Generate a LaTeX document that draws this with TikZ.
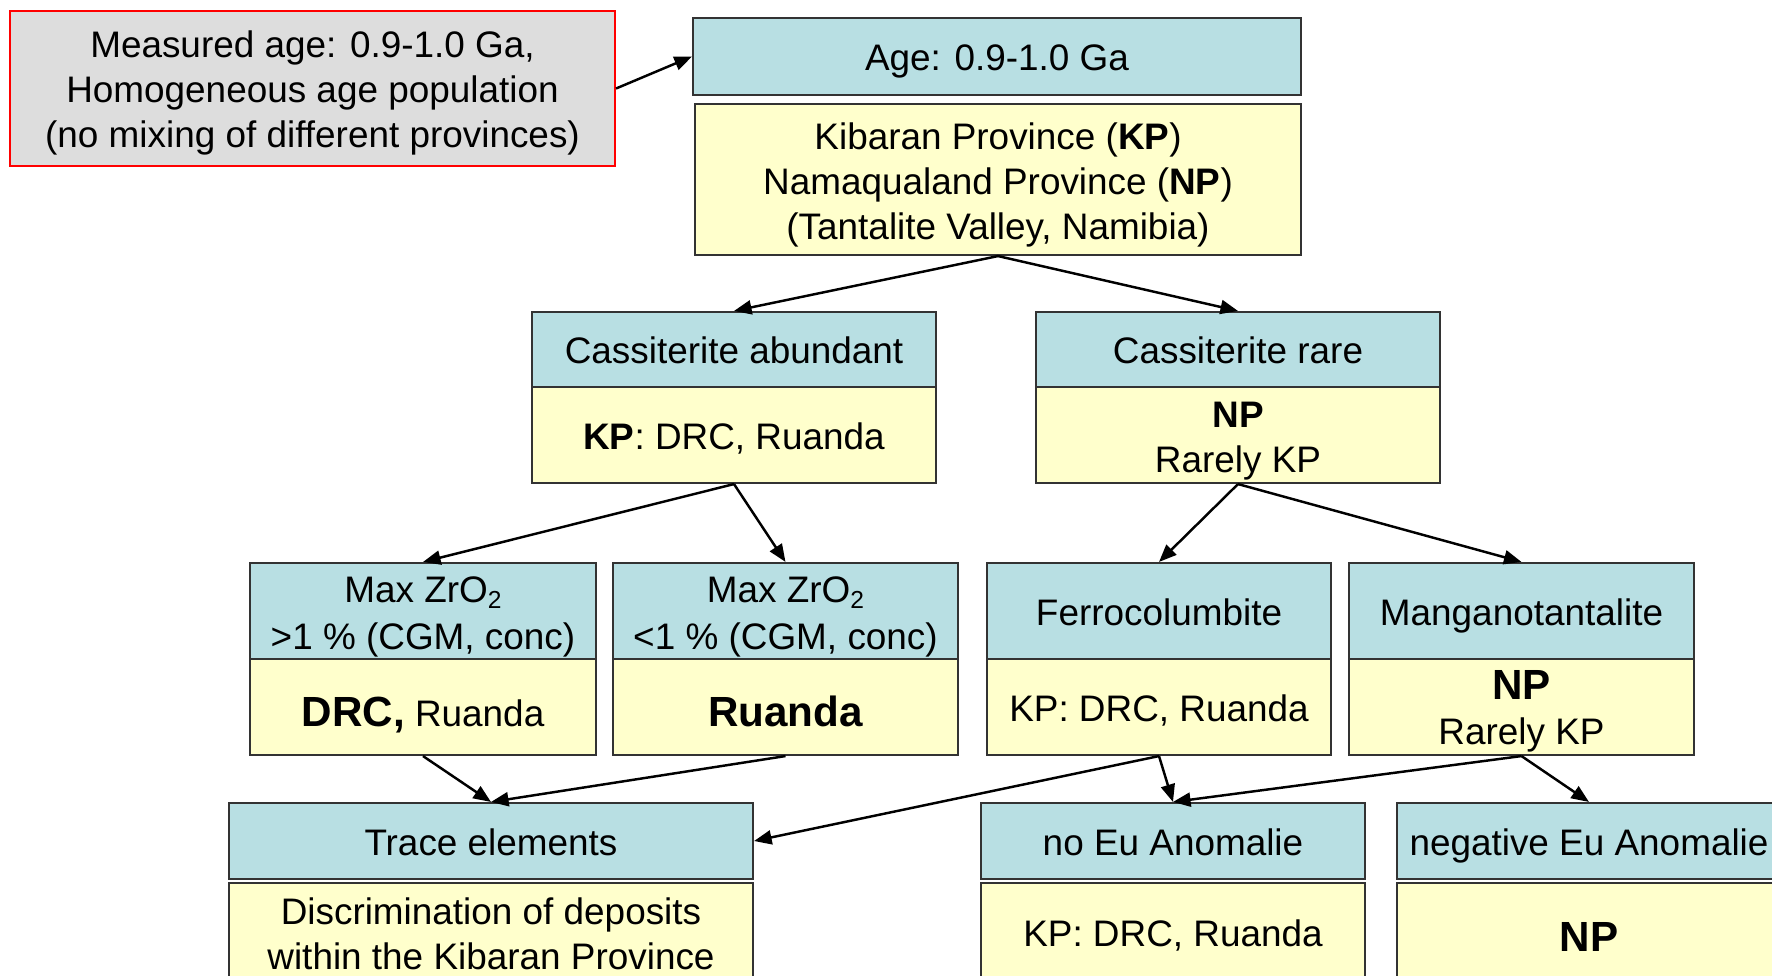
\documentclass[tikz,border=0pt]{standalone}
\usepackage{fontspec}
\setmainfont{Liberation Sans}
\usetikzlibrary{arrows.meta}
\definecolor{headblue}{HTML}{B8DFE3}
\definecolor{infoyellow}{HTML}{FFFFCC}
\definecolor{measgray}{HTML}{DDDDDD}
\newcommand\bigbold[1]{{\fontsize{12}{14}\selectfont\bfseries #1}}
\newcommand\pptstrut{\rule[-0.212em]{0pt}{1.2em}}
\newcommand\firststrut{\rule{0pt}{1.04em}}
\newcommand\bigstrut{\rule{0pt}{1.25em}}
\newcommand\zrsub{{\fontsize{7}{8}\selectfont\raisebox{-0.45ex}{2}}}
\begin{document}
\begin{tikzpicture}[
  font=\fontsize{10.5}{12.8}\selectfont,
  box/.style={draw=black!80,line width=0.6pt,align=center,inner sep=0pt,
    execute at begin node=\pptstrut,execute at end node=\pptstrut},
  head/.style={box,fill=headblue},
  info/.style={box,fill=infoyellow},
  arr/.style={-{Triangle[length=5pt,width=4pt]},line width=0.7pt}]
  \useasboundingbox (0,0) rectangle (17.72,-9.75);
  \clip (0,0) rectangle (17.72,-9.75);
  \node[box,draw=red,fill=measgray,minimum width=6.05cm,minimum height=1.55cm] (measured) at (3.125,-0.885) {\rule{0pt}{0.95em}Measured age: 0.9-1.0 Ga,\\Homogeneous age population\\(no mixing of different provinces)};
  \node[head,minimum width=6.08cm,minimum height=0.77cm] (age) at (9.97,-0.565) {Age: 0.9-1.0 Ga};
  \node[info,minimum width=6.06cm,minimum height=1.51cm] (province) at (9.98,-1.795) {\firststrut Kibaran Province (\textbf{KP})\\Namaqualand Province (\textbf{NP})\\(Tantalite Valley, Namibia)};
  \node[head,minimum width=4.04cm,minimum height=0.75cm] (cassab) at (7.34,-3.495) {Cassiterite abundant};
  \node[info,minimum width=4.04cm,minimum height=0.96cm] (cassabY) at (7.34,-4.35) {\textbf{KP}: DRC, Ruanda};
  \node[head,minimum width=4.04cm,minimum height=0.75cm] (cassra) at (12.38,-3.495) {Cassiterite rare};
  \node[info,minimum width=4.04cm,minimum height=0.96cm] (cassraY) at (12.38,-4.35) {\firststrut\textbf{NP}\\Rarely KP};
  \node[head,minimum width=3.46cm,minimum height=0.96cm] (zhi) at (4.23,-6.11) {\firststrut Max ZrO\zrsub\\[0.5pt]>1 \% (CGM, conc)};
  \node[info,minimum width=3.46cm,minimum height=0.96cm] (zhiY) at (4.23,-7.07) {\bigstrut\bigbold{DRC,} Ruanda};
  \node[head,minimum width=3.45cm,minimum height=0.96cm] (zlo) at (7.855,-6.11) {\firststrut Max ZrO\zrsub\\[0.5pt]<1 \% (CGM, conc)};
  \node[info,minimum width=3.45cm,minimum height=0.96cm] (zloY) at (7.855,-7.07) {\bigstrut\bigbold{Ruanda}};
  \node[head,minimum width=3.44cm,minimum height=0.96cm] (ferro) at (11.59,-6.11) {Ferrocolumbite};
  \node[info,minimum width=3.44cm,minimum height=0.96cm] (ferroY) at (11.59,-7.07) {KP: DRC, Ruanda};
  \node[head,minimum width=3.45cm,minimum height=0.96cm] (mang) at (15.215,-6.11) {Manganotantalite};
  \node[info,minimum width=3.45cm,minimum height=0.96cm] (mangY) at (15.215,-7.07) {\firststrut\bigbold{NP}\\Rarely KP};
  \node[head,minimum width=5.24cm,minimum height=0.76cm] (trace) at (4.91,-8.41) {Trace elements};
  \node[info,minimum width=5.24cm,minimum height=0.98cm] (traceY) at (4.91,-9.32) {\firststrut Discrimination of deposits\\within the Kibaran Province};
  \node[head,minimum width=3.84cm,minimum height=0.76cm] (noeu) at (11.73,-8.41) {no Eu Anomalie};
  \node[info,minimum width=3.84cm,minimum height=0.98cm] (noeuY) at (11.73,-9.32) {KP: DRC, Ruanda};
  \node[head,minimum width=3.84cm,minimum height=0.76cm] (negeu) at (15.89,-8.41) {negative Eu Anomalie};
  \node[info,minimum width=3.84cm,minimum height=0.98cm] (negeuY) at (15.89,-9.32) {\bigstrut\bigbold{NP}};
  \draw[arr] (measured.east) -- (age.west);
  \draw[arr] (province.south) -- (cassab.north);
  \draw[arr] (province.south) -- (cassra.north);
  \draw[arr] (cassabY.south) -- (zhi.north);
  \draw[arr] (cassabY.south) -- (zlo.north);
  \draw[arr] (cassraY.south) -- (ferro.north);
  \draw[arr] (cassraY.south) -- (mang.north);
  \draw[arr] (zhiY.south) -- (trace.north);
  \draw[arr] (zloY.south) -- (trace.north);
  \draw[arr] (ferroY.south) -- (trace.east);
  \draw[arr] (ferroY.south) -- (noeu.north);
  \draw[arr] (mangY.south) -- (noeu.north);
  \draw[arr] (mangY.south) -- (negeu.north);
\end{tikzpicture}
\end{document}
